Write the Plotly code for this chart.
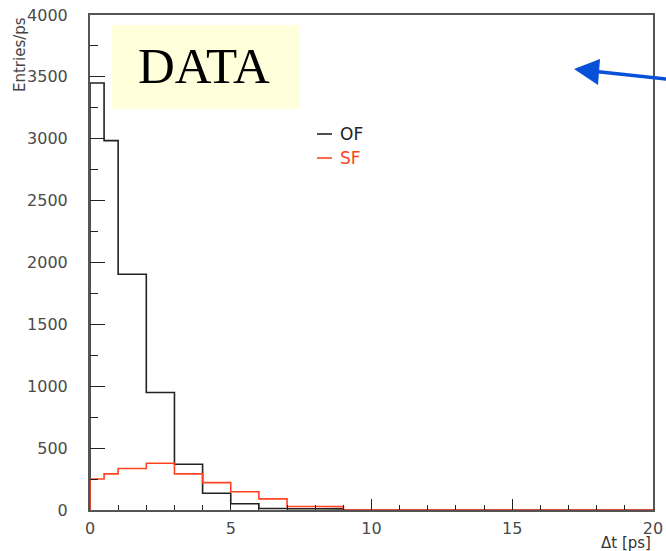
import numpy as np
import plotly.graph_objects as go

# Δt histogram bins (ps): two half-width bins, then 1 ps bins up to 20 ps
bin_edges = [0, 0.5, 1, 2, 3, 4, 5, 6, 7, 8, 9, 10, 11, 12, 13, 14, 15, 16, 17, 18, 19, 20]

# Entries per ps in each bin
of_counts = [3450, 2985, 1905, 950, 370, 135, 50, 12, 10, 9, 0, 0, 0, 0, 0, 0, 0, 0, 0, 0, 0]
sf_counts = [250, 292, 335, 378, 292, 221, 147, 90, 28, 27, 0, 0, 0, 0, 0, 0, 0, 0, 0, 0, 0]

series_names = ["OF", "SF"]
series_colors = ["#222222", "#ff4422"]

W, H = 666, 551
ML, MR, MT, MB = 90, 13, 15, 41
PW, PH = W - ML - MR, H - MT - MB


def px(x):
    return (x - ML) / PW


def py(y):
    return (H - MB - y) / PH


def step_path(edges, counts):
    e = np.asarray(edges, dtype=float)
    c = np.asarray(counts, dtype=float)
    xs = np.repeat(e, 2)
    ys = np.concatenate([[0.0], np.repeat(c, 2), [0.0]])
    return xs, ys


fig = go.Figure()
for name, counts, color in zip(series_names, [of_counts, sf_counts], series_colors):
    xs, ys = step_path(bin_edges, counts)
    fig.add_trace(go.Scatter(
        x=xs, y=ys, mode="lines", name=name,
        line=dict(color=color, width=1.6),
        showlegend=False, cliponaxis=False, hoverinfo="skip",
    ))

tick_font = dict(family="DejaVu Sans", size=16, color="#4a4a4a")

fig.update_xaxes(
    range=[0, 20], showgrid=False, zeroline=False, automargin=False,
    showline=True, mirror=True, linecolor="#555555", linewidth=2,
    ticks="inside", tick0=0, dtick=5, ticklen=11, tickwidth=1.3, tickcolor="#222222",
    minor=dict(ticks="inside", dtick=1, ticklen=5, tickwidth=1.3, tickcolor="#222222"),
    tickfont=tick_font, ticklabelstandoff=3,
)
fig.update_yaxes(
    range=[0, 4000], showgrid=False, zeroline=False, automargin=False,
    showline=True, mirror=True, linecolor="#555555", linewidth=2,
    ticks="inside", tick0=0, dtick=500, ticklen=15, tickwidth=1.3, tickcolor="#222222",
    minor=dict(ticks="inside", dtick=250, ticklen=8, tickwidth=1.3, tickcolor="#222222"),
    tickfont=tick_font, ticklabelstandoff=17,
)

shapes = []
annotations = []

# "DATA" label box
shapes.append(dict(type="rect", xref="paper", yref="paper",
                   x0=px(112), x1=px(300), y0=py(109), y1=py(25),
                   fillcolor="#ffffdc", line=dict(width=0), layer="above"))
annotations.append(dict(text="DATA", xref="paper", yref="paper",
                        x=px(204), y=py(66), xanchor="center", yanchor="middle",
                        showarrow=False,
                        font=dict(family="Liberation Serif", size=51, color="#000000")))

# legend entries: short line sample + label
for i, (name, color) in enumerate(zip(series_names, series_colors)):
    yy = 134 + 24 * i
    shapes.append(dict(type="line", xref="paper", yref="paper",
                       x0=px(317), x1=px(332), y0=py(yy), y1=py(yy),
                       line=dict(color=color, width=1.6)))
    annotations.append(dict(text=name, xref="paper", yref="paper",
                            x=px(338), y=py(yy), xanchor="left", yanchor="middle",
                            showarrow=False,
                            font=dict(family="DejaVu Sans", size=17, color=color)))

# blue pointer arrow
arrow_blue = "#0750d8"
shapes.append(dict(type="line", xref="paper", yref="paper",
                   x0=px(596), y0=py(71.5), x1=px(690), y1=py(81.5),
                   line=dict(color=arrow_blue, width=3.5)))
shapes.append(dict(type="path", xref="paper", yref="paper",
                   path=f"M {px(574)},{py(69)} L {px(600)},{py(59)} L {px(598)},{py(85)} Z",
                   fillcolor=arrow_blue, line=dict(width=0)))

# axis titles
annotations.append(dict(text="Entries/ps", xref="paper", yref="paper",
                        x=px(20), y=py(55), xanchor="center", yanchor="middle",
                        textangle=-90, showarrow=False,
                        font=dict(family="DejaVu Sans", size=15, color="#444444")))
annotations.append(dict(text="Δt [ps]", xref="paper", yref="paper",
                        x=1, y=py(543), xanchor="right", yanchor="middle",
                        showarrow=False,
                        font=dict(family="DejaVu Sans", size=15, color="#333333")))

fig.update_layout(
    width=W, height=H,
    margin=dict(l=ML, r=MR, t=MT, b=MB, pad=0, autoexpand=False),
    paper_bgcolor="white", plot_bgcolor="white",
    shapes=shapes, annotations=annotations,
    showlegend=False,
)

fig.write_html("out.html")
